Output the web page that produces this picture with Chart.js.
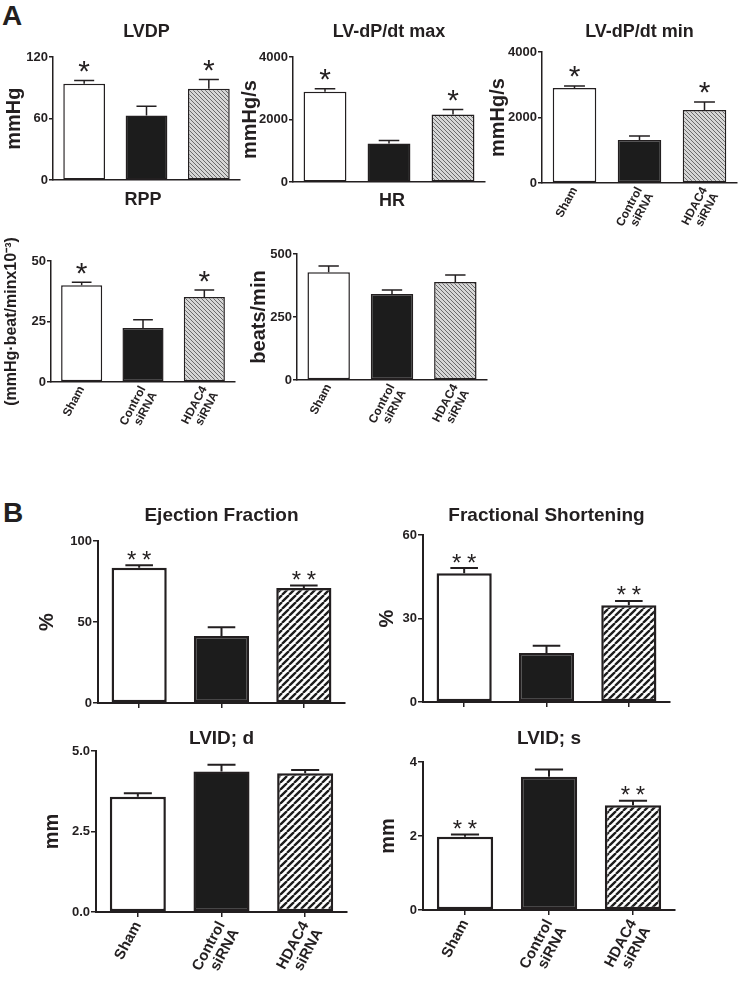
<!DOCTYPE html>
<html>
<head>
<meta charset="utf-8">
<title>HDAC4 siRNA - cardiac function</title>
<script src="https://cdn.jsdelivr.net/npm/chart.js@4.4.1/dist/chart.umd.min.js"></script>
<style>
  html, body { margin: 0; padding: 0; background: #fff; }
  body { width: 739px; height: 985px; position: relative; overflow: hidden; font-family: 'Liberation Sans', Arial, sans-serif; }
  .letter { position: absolute; font-weight: bold; font-size: 28px; line-height: 1; color: #231f20; }
  canvas { position: absolute; }
</style>
</head>
<body>
<div class="letter" style="left:2px;top:2px">A</div>
<div class="letter" style="left:3px;top:499px">B</div>
<script>
// ---- data ----
const groups = [['Sham'], ['Control', 'siRNA'], ['HDAC4', 'siRNA']];

const lvdpMean = [94, 63, 89];
const lvdpSem = [3, 9, 9];
const lvdpStars = ['*', '', '*'];
const lvdpTicks = [0, 60, 120];

const dpMaxMean = [2890, 1240, 2160];
const dpMaxSem = [95, 95, 160];
const dpMaxStars = ['*', '', '*'];
const dpMaxTicks = [0, 2000, 4000];

const dpMinMean = [2900, 1310, 2230];
const dpMinSem = [65, 125, 245];
const dpMinStars = ['*', '', '*'];
const dpMinTicks = [0, 2000, 4000];

const rppMean = [40, 22.3, 35.1];
const rppSem = [1.2, 3.4, 2.9];
const rppStars = ['*', '', '*'];
const rppTicks = [0, 25, 50];

const hrMean = [428, 341, 389];
const hrSem = [24, 16, 28];
const hrStars = ['', '', ''];
const hrTicks = [0, 250, 500];

const efMean = [83.5, 41.4, 71];
const efSem = [1.5, 5.3, 1.6];
const efStars = ['**', '', '**'];
const efTicks = [0, 50, 100];

const fsMean = [46.3, 17.6, 34.8];
const fsSem = [1.8, 2.6, 1.5];
const fsStars = ['**', '', '**'];
const fsTicks = [0, 30, 60];

const lvidDMean = [3.58, 4.36, 4.31];
const lvidDSem = [0.11, 0.21, 0.1];
const lvidDStars = ['', '', ''];
const lvidDTicks = [0, 2.5, 5];

const lvidSMean = [1.98, 3.6, 2.83];
const lvidSSem = [0.06, 0.2, 0.12];
const lvidSStars = ['**', '', '**'];
const lvidSTicks = [0, 2, 4];

// ---- look ----
const ink = '#231f20';
const family = "'Liberation Sans', Arial, sans-serif";

function hatch(size, bg, fg, lw, dir) {
    const c = document.createElement('canvas');
    c.width = c.height = size;
    const g = c.getContext('2d');
    g.fillStyle = bg;
    g.fillRect(0, 0, size, size);
    g.strokeStyle = fg;
    g.lineWidth = lw;
    g.beginPath();
    for (let k = -1; k <= 1; k++) {
        if (dir === '/') {
            g.moveTo(k * size, size);
            g.lineTo(k * size + size, 0);
        } else {
            g.moveTo(k * size, 0);
            g.lineTo(k * size + size, size);
        }
    }
    g.stroke();
    return g.createPattern(c, 'repeat');
}

const styles = {
    A: {
        title: 18, yLabel: 20, tick: 13, xLabel: 12,
        border: 1.5, axis: 1.5, err: 1.5, cap: 0.48,
        starFont: '30px ' + family, starGap: 14, starStep: 14,
        xTickMarks: false, yTickLen: 4,
        fills: ['#ffffff', '#1c1c1c', hatch(4, '#d6d6d6', '#6a6a6a', 1, '\\')]
    },
    B: {
        title: 19, yLabel: 20, tick: 13, xLabel: 15,
        border: 2.5, axis: 2, err: 2, cap: 0.5,
        starFont: '24px ' + family, starGap: 10, starStep: 15,
        xTickMarks: true, yTickLen: 5,
        fills: ['#ffffff', '#1c1c1c', hatch(7, '#ffffff', '#1c1c1c', 2.3, '/')]
    }
};

// error bars (upward, SEM) and significance stars
const errorBars = {
    id: 'errorBars',
    afterDatasetsDraw(chart, args, opts) {
        const { ctx } = chart;
        const y = chart.scales.y;
        const ds = chart.data.datasets[0];
        const meta = chart.getDatasetMeta(0);
        ctx.save();
        ctx.strokeStyle = ink;
        ctx.fillStyle = ink;
        ctx.lineWidth = opts.width;
        ctx.font = opts.starFont;
        ctx.textAlign = 'center';
        const m = ctx.measureText('*');
        meta.data.forEach((bar, i) => {
            const top = y.getPixelForValue(ds.data[i] + ds.errors[i]);
            const half = bar.width * opts.cap / 2;
            ctx.beginPath();
            ctx.moveTo(bar.x, bar.y);
            ctx.lineTo(bar.x, top);
            ctx.moveTo(bar.x - half, top);
            ctx.lineTo(bar.x + half, top);
            ctx.stroke();
            const s = ds.stars[i];
            if (s) {
                const cy = top - opts.starGap;
                const base = cy + (m.actualBoundingBoxAscent - m.actualBoundingBoxDescent) / 2;
                for (let k = 0; k < s.length; k++) {
                    ctx.fillText('*', bar.x + (k - (s.length - 1) / 2) * opts.starStep, base);
                }
            }
        });
        ctx.restore();
    }
};

const panels = [
    { sec: 'A', title: 'LVDP', yLabel: 'mmHg', mean: lvdpMean, sem: lvdpSem, stars: lvdpStars, ticks: lvdpTicks, dec: 0,
      labels: false, plot: [53, 57, 240, 181], titleY: 32, yLabelX: 14, below: 8 },
    { sec: 'A', title: 'LV-dP/dt max', yLabel: 'mmHg/s', mean: dpMaxMean, sem: dpMaxSem, stars: dpMaxStars, ticks: dpMaxTicks, dec: 0,
      labels: false, plot: [293, 57, 485, 183], titleY: 32, yLabelX: 250, below: 8 },
    { sec: 'A', title: 'LV-dP/dt min', yLabel: 'mmHg/s', mean: dpMinMean, sem: dpMinSem, stars: dpMinStars, ticks: dpMinTicks, dec: 0,
      labels: true, plot: [542, 52, 737, 183], titleY: 32, yLabelX: 498, below: 70 },
    { sec: 'A', title: 'RPP', yLabel: '(mmHg·beat/minx10⁻³)', yLabelSize: 16, mean: rppMean, sem: rppSem, stars: rppStars, ticks: rppTicks, dec: 0,
      labels: true, plot: [51, 261, 235, 382], titleY: 200, yLabelX: 12, below: 80 },
    { sec: 'A', title: 'HR', yLabel: 'beats/min', mean: hrMean, sem: hrSem, stars: hrStars, ticks: hrTicks, dec: 0,
      labels: true, plot: [297, 254, 487, 380], titleY: 201, yLabelX: 259, below: 80 },
    { sec: 'B', title: 'Ejection Fraction', yLabel: '%', mean: efMean, sem: efSem, stars: efStars, ticks: efTicks, dec: 0,
      labels: false, plot: [98, 541, 345, 703], titleY: 515, yLabelX: 47, below: 12 },
    { sec: 'B', title: 'Fractional Shortening', yLabel: '%', mean: fsMean, sem: fsSem, stars: fsStars, ticks: fsTicks, dec: 0,
      labels: false, plot: [423, 535, 670, 702], titleY: 515, yLabelX: 387, below: 12 },
    { sec: 'B', title: 'LVID; d', yLabel: 'mm', mean: lvidDMean, sem: lvidDSem, stars: lvidDStars, ticks: lvidDTicks, dec: 1,
      labels: true, plot: [96, 751, 347, 912], titleY: 738, yLabelX: 52, below: 73 },
    { sec: 'B', title: 'LVID; s', yLabel: 'mm', mean: lvidSMean, sem: lvidSSem, stars: lvidSStars, ticks: lvidSTicks, dec: 0,
      labels: true, plot: [423, 762, 675, 910], titleY: 738, yLabelX: 388, below: 75 }
];

function makePanel(p) {
    const st = styles[p.sec];
    const [L, T, R, B] = p.plot;
    const ySize = p.yLabelSize || st.yLabel;
    const x0 = Math.round(p.yLabelX - ySize / 2);
    const y0 = Math.round(p.titleY - 0.6 * st.title);
    const x1 = R + 2;
    const y1 = B + p.below;

    const canvas = document.createElement('canvas');
    canvas.width = x1 - x0;
    canvas.height = y1 - y0;
    canvas.style.left = x0 + 'px';
    canvas.style.top = y0 + 'px';
    document.body.appendChild(canvas);

    const tickFont = { family, size: st.tick, weight: 'bold' };

    new Chart(canvas, {
        type: 'bar',
        data: {
            labels: groups,
            datasets: [{
                data: p.mean,
                errors: p.sem,
                stars: p.stars,
                backgroundColor: st.fills,
                borderColor: ink,
                borderWidth: st.border,
                borderSkipped: false,
                categoryPercentage: 1,
                barPercentage: 0.67
            }]
        },
        options: {
            responsive: false,
            animation: false,
            events: [],
            layout: { padding: { top: 0, left: 0, right: x1 - R, bottom: 0 } },
            plugins: {
                legend: { display: false },
                tooltip: { enabled: false },
                title: {
                    display: true,
                    text: p.title,
                    fullSize: false,
                    color: ink,
                    font: { family, size: st.title, weight: 'bold', lineHeight: 1.2 },
                    padding: { top: 0, bottom: T - y0 - 1.2 * st.title }
                },
                errorBars: {
                    width: st.err, cap: st.cap,
                    starFont: st.starFont, starGap: st.starGap, starStep: st.starStep
                }
            },
            scales: {
                x: {
                    offset: true,
                    grid: {
                        display: st.xTickMarks,
                        drawOnChartArea: false,
                        drawTicks: st.xTickMarks,
                        tickLength: 5,
                        offset: false,
                        color: ink,
                        lineWidth: 1.5
                    },
                    border: { display: true, color: ink, width: st.axis },
                    ticks: {
                        display: p.labels,
                        color: ink,
                        font: { family, size: st.xLabel, weight: 'bold', lineHeight: 1.05 },
                        minRotation: 62,
                        maxRotation: 62,
                        autoSkip: false,
                        padding: 2
                    },
                    afterFit: s => { s.height = p.below; }
                },
                y: {
                    min: p.ticks[0],
                    max: p.ticks[p.ticks.length - 1],
                    afterBuildTicks: s => { s.ticks = p.ticks.map(v => ({ value: v })); },
                    grid: {
                        drawOnChartArea: false,
                        drawTicks: true,
                        tickLength: st.yTickLen,
                        color: ink,
                        lineWidth: 1.5
                    },
                    border: { display: true, color: ink, width: st.axis },
                    ticks: {
                        color: ink,
                        font: tickFont,
                        padding: 1,
                        callback: v => Number(v).toFixed(p.dec)
                    },
                    title: {
                        display: true,
                        text: p.yLabel,
                        color: ink,
                        font: { family, size: ySize, weight: 'bold', lineHeight: 1 },
                        padding: { top: 0, bottom: 0 }
                    },
                    afterFit: s => { s.width = L - x0; }
                }
            }
        },
        plugins: [errorBars]
    });
}

panels.forEach(makePanel);
</script>
</body>
</html>
